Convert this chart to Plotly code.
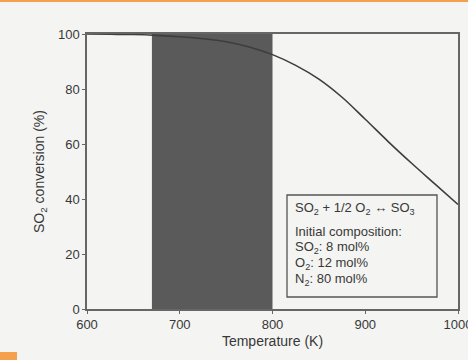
import plotly.graph_objects as go

# Data
temperature_K = [600, 625, 650, 675, 700, 725, 750, 775, 800, 825, 850, 875, 900, 925, 950, 975, 1000]
so2_conversion = [100, 99.9, 99.8, 99.5, 99.0, 98.3, 97.2, 95.3, 92.5, 88.6, 83.6, 77.0, 69.0, 60.8, 53.0, 45.5, 38.0]
window_start = 670
window_end = 800
x_ticks = [600, 700, 800, 900, 1000]
y_ticks = [0, 20, 40, 60, 80, 100]
legend_lines = ["SO<sub>2</sub> + 1/2 O<sub>2</sub> \u2194 SO<sub>3</sub>",
                "Initial composition:",
                "SO<sub>2</sub>: 8 mol%",
                "O<sub>2</sub>: 12 mol%",
                "N<sub>2</sub>: 80 mol%"]

FONT = "Liberation Sans, Arial, sans-serif"
INK = "#383838"
BG = "#f4f4f2"

L, R, T, B = 87, 458, 34, 309
PW, PH = R - L, B - T

def px(x):
    return (x - L) / PW

def py(y):
    return (B - y) / PH

fig = go.Figure()

# Operating window (shaded band)
fig.add_shape(type="rect", xref="x", yref="y", x0=window_start, x1=window_end, y0=0, y1=100,
              fillcolor="#5a5a5a", line=dict(width=0), layer="below")

fig.add_trace(go.Scatter(x=temperature_K, y=so2_conversion, mode="lines",
                         line=dict(color="#3d3d3d", width=1.6, shape="spline", smoothing=1.0),
                         showlegend=False, hoverinfo="skip"))

fig.update_xaxes(range=[600, 1000], tickvals=x_ticks, ticks="outside", ticklen=3,
                 tickcolor="#666", linecolor="#666", linewidth=1.5, mirror=True,
                 showgrid=False, zeroline=False, automargin=False, ticklabeloverflow="allow",
                 tickfont=dict(family=FONT, size=13, color=INK),
                 title=dict(text="Temperature (K)", font=dict(family=FONT, size=14, color=INK), standoff=5))
fig.update_yaxes(range=[0, 100], tickvals=y_ticks, ticks="outside", ticklen=3,
                 tickcolor="#666", linecolor="#666", linewidth=1.5, mirror=True,
                 showgrid=False, zeroline=False, automargin=False,
                 tickfont=dict(family=FONT, size=13, color=INK),
                 title=dict(text="SO<sub>2</sub> conversion (%)", font=dict(family=FONT, size=14, color=INK), standoff=10))

# Legend box
fig.add_shape(type="rect", xref="paper", yref="paper",
              x0=px(287), x1=px(437), y0=py(297), y1=py(195),
              line=dict(color="#555", width=1.3), fillcolor=BG)
line_y = [208, 231, 247, 263, 279]
for txt, yy in zip(legend_lines, line_y):
    fig.add_annotation(xref="paper", yref="paper", x=px(293), y=py(yy),
                       text=txt, showarrow=False, xanchor="left", yanchor="middle",
                       font=dict(family=FONT, size=13, color=INK))

# scan artifacts (orange edges)
fig.add_shape(type="rect", xref="paper", yref="paper", x0=px(0), x1=px(468),
              y0=py(2), y1=py(-2), line=dict(width=0), fillcolor="#f5a04c", layer="above")
fig.add_shape(type="rect", xref="paper", yref="paper", x0=px(0), x1=px(17),
              y0=py(362), y1=py(352), line=dict(width=0), fillcolor="#f5a04c", layer="above")

fig.update_layout(width=468, height=360, margin=dict(l=L, r=468 - R, t=T, b=360 - B, autoexpand=False),
                  paper_bgcolor=BG, plot_bgcolor=BG)

fig.write_html("out.html", config={"displayModeBar": False},
               post_script="document.body.style.margin='0';document.body.style.overflow='hidden';")
